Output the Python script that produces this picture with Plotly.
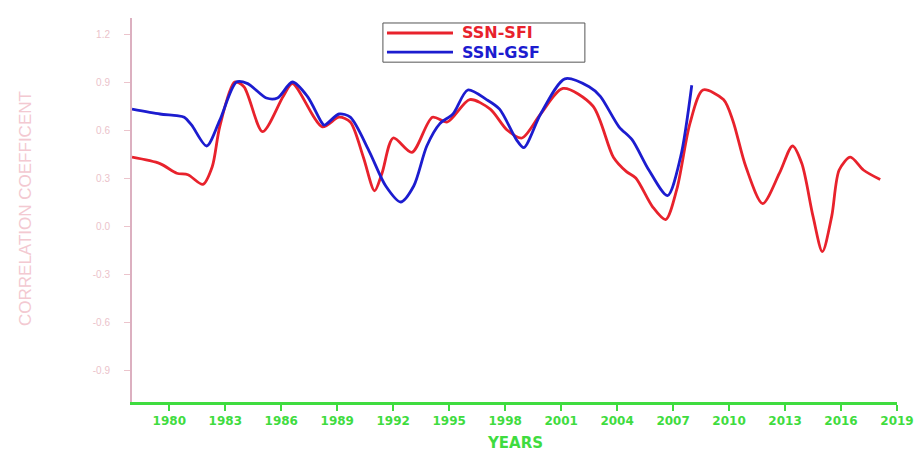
import plotly.graph_objects as go

# Sliding correlation of sunspot number with solar flux index (SSN-SFI)
sfi_years = [1978.0, 1979.5, 1980.4, 1981.0, 1981.8, 1982.3, 1982.7, 1983.5, 1984.0,
             1985.0, 1986.1, 1986.6, 1988.2, 1989.1, 1989.7, 1990.4, 1991.0, 1991.4,
             1992.0, 1993.0, 1994.1, 1994.9, 1996.1, 1997.2, 1998.1, 1998.9, 1999.9,
             2001.1, 2002.7, 2003.8, 2004.5, 2005.0, 2005.9, 2006.6, 2007.2, 2007.9,
             2008.6, 2009.7, 2010.2, 2010.9, 2011.8, 2012.7, 2013.4, 2013.9, 2014.5,
             2015.0, 2015.5, 2015.9, 2016.5, 2017.2, 2018.1]
sfi_corr = [0.43, 0.39, 0.33, 0.32, 0.26, 0.37, 0.62, 0.90, 0.87,
            0.59, 0.81, 0.89, 0.62, 0.68, 0.65, 0.43, 0.22, 0.33,
            0.55, 0.46, 0.68, 0.65, 0.79, 0.73, 0.60, 0.55, 0.70,
            0.86, 0.75, 0.43, 0.34, 0.30, 0.12, 0.04, 0.23, 0.64,
            0.85, 0.79, 0.66, 0.37, 0.14, 0.33, 0.50, 0.39, 0.06,
            -0.16, 0.06, 0.35, 0.43, 0.35, 0.29]

# Sliding correlation of sunspot number with green-line solar flux (SSN-GSF)
gsf_years = [1978.0, 1979.5, 1980.4, 1980.8, 1981.2, 1982.0, 1982.7, 1983.6, 1984.2,
             1985.2, 1985.8, 1986.6, 1987.4, 1988.1, 1988.3, 1989.1, 1989.7, 1990.7,
             1991.6, 1992.4, 1993.1, 1993.8, 1994.5, 1995.2, 1996.0, 1997.0, 1997.7,
             1998.6, 1999.0, 1999.9, 2001.2, 2002.5, 2003.1, 2004.1, 2004.8, 2005.7,
             2006.7, 2007.4, 2008.0]
gsf_corr = [0.73, 0.70, 0.69, 0.68, 0.63, 0.50, 0.66, 0.90, 0.89,
            0.80, 0.80, 0.90, 0.81, 0.66, 0.63, 0.70, 0.68, 0.47,
            0.25, 0.15, 0.25, 0.50, 0.64, 0.70, 0.85, 0.79, 0.73,
            0.54, 0.49, 0.70, 0.92, 0.87, 0.81, 0.62, 0.54, 0.35,
            0.19, 0.43, 0.88]

series_names = ["SSN-SFI", "SSN-GSF"]
series_colors = ["#e8222c", "#1c1ccf"]

year_ticks = list(range(1980, 2020, 3))
corr_ticks = [-0.9, -0.6, -0.3, 0.0, 0.3, 0.6, 0.9, 1.2]
corr_labels = [f"{v:.1f}" for v in corr_ticks]

fig = go.Figure()
for xs, ys, name, color in zip([sfi_years, gsf_years], [sfi_corr, gsf_corr],
                               series_names, series_colors):
    fig.add_trace(go.Scatter(x=xs, y=ys, mode="lines", name=name, showlegend=False,
                             line=dict(color=color, width=2.8, shape="spline", smoothing=0.8)))

# Boxed key in the upper middle of the plot, text coloured like each series
box = dict(x0=0.328, x1=0.592, y0=0.885, y1=0.987)
fig.add_shape(type="rect", xref="paper", yref="paper", **box,
              line=dict(color="#555555", width=1), fillcolor="white", layer="above")
row_y = [0.961, 0.911]
for ry, name, color in zip(row_y, series_names, series_colors):
    fig.add_shape(type="line", xref="paper", yref="paper",
                  x0=0.3333, x1=0.4196, y0=ry, y1=ry,
                  line=dict(color=color, width=2.8), layer="above")
    fig.add_annotation(xref="paper", yref="paper", x=0.4288, y=ry,
                       xanchor="left", yanchor="middle", showarrow=False,
                       text=name,
                       font=dict(family="DejaVu Sans", size=16, color=color, weight="bold"))

# Axis titles
fig.add_annotation(xref="paper", yref="paper", x=0.5, y=-0.107,
                   xanchor="center", yanchor="middle", showarrow=False,
                   text="YEARS",
                   font=dict(family="DejaVu Sans", size=15, color="#3fdc3f", weight="bold"))
fig.add_annotation(xref="paper", yref="paper", x=-0.140, y=0.505,
                   xanchor="center", yanchor="middle", showarrow=False, textangle=-90,
                   text="CORRELATION COEFFICENT",
                   font=dict(family="Liberation Sans", size=17, color="#f3c9d1"))

fig.update_layout(
    width=915, height=452,
    margin=dict(l=132, r=18, t=18, b=50, autoexpand=False),
    paper_bgcolor="white", plot_bgcolor="white",
    showlegend=False,
    xaxis=dict(
        range=[1978, 2019], tickvals=year_ticks, ticktext=[str(y) for y in year_ticks],
        showgrid=False, zeroline=False, automargin=False,
        showline=True, linecolor="#3fdc3f", linewidth=2.5,
        ticks="outside", ticklen=6, tickwidth=2, tickcolor="#3fdc3f",
        tickfont=dict(family="DejaVu Sans", size=12, color="#3fdc3f", weight="bold"),
        ticklabelstandoff=0,
    ),
    yaxis=dict(
        range=[-1.1, 1.3], tickvals=corr_ticks, ticktext=corr_labels,
        showgrid=False, zeroline=False, automargin=False,
        showline=True, linecolor="#dcb0c0", linewidth=2,
        ticks="outside", ticklen=6, tickwidth=1, tickcolor="#ecc4cc",
        tickfont=dict(family="Liberation Sans", size=10, color="#ebc3cb"),
        ticklabelstandoff=12,
    ),
)

fig.write_html("out.html")
